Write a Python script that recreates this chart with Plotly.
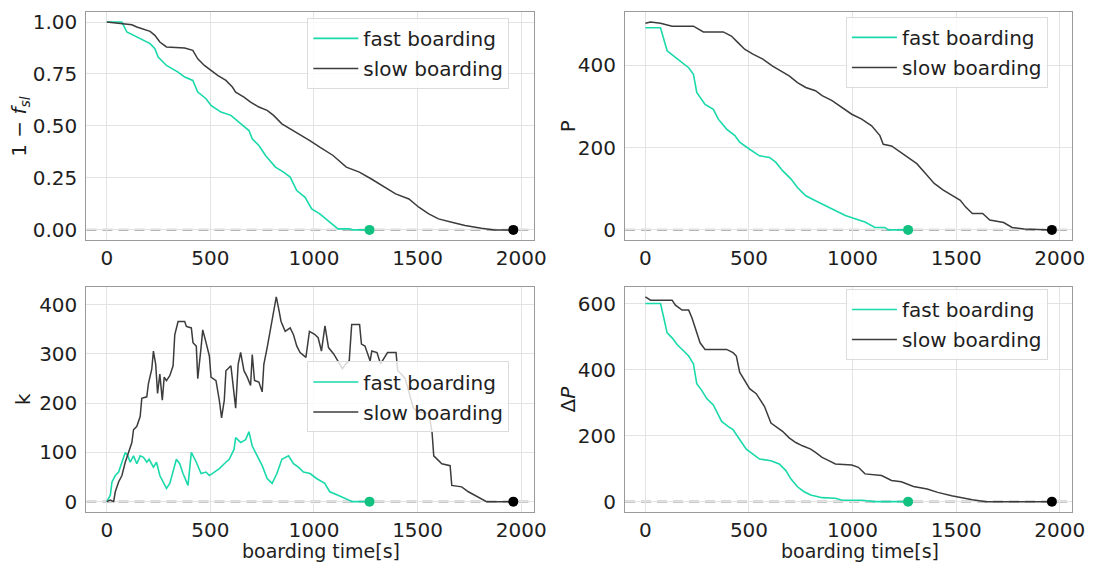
import plotly.graph_objects as go

# ---------------- data ----------------
# panel 1: 1 - f_sl
fsl_fast_t = [0, 73, 97, 129, 177, 209, 232, 248, 288, 344, 376, 415, 439, 479, 503, 551, 599, 646, 686, 702, 734, 766, 814, 853, 885, 917, 957, 989, 1028, 1076, 1116, 1172, 1188, 1268]
fsl_fast_v = [1.0, 1.0, 0.952, 0.936, 0.912, 0.896, 0.872, 0.831, 0.791, 0.759, 0.735, 0.719, 0.663, 0.631, 0.599, 0.567, 0.551, 0.510, 0.478, 0.438, 0.406, 0.358, 0.302, 0.278, 0.254, 0.189, 0.157, 0.101, 0.077, 0.037, 0.005, 0.005, 0.0, 0.0]
fsl_slow_t = [0, 73, 121, 145, 177, 209, 232, 256, 288, 376, 415, 439, 471, 503, 535, 575, 606, 622, 662, 694, 734, 774, 805, 845, 885, 917, 980, 1028, 1092, 1156, 1219, 1275, 1331, 1394, 1458, 1506, 1554, 1601, 1665, 1729, 1808, 1872, 1962]
fsl_slow_v = [1.0, 0.992, 0.987, 0.976, 0.965, 0.955, 0.936, 0.904, 0.880, 0.875, 0.864, 0.823, 0.791, 0.767, 0.743, 0.719, 0.687, 0.663, 0.639, 0.615, 0.591, 0.575, 0.551, 0.510, 0.486, 0.470, 0.430, 0.398, 0.358, 0.302, 0.278, 0.246, 0.213, 0.173, 0.149, 0.109, 0.077, 0.053, 0.037, 0.021, 0.008, 0.0, 0.0]

# panel 2: P
p_fast_t = [0, 73, 89, 105, 145, 177, 209, 232, 248, 288, 328, 352, 392, 432, 455, 503, 551, 599, 630, 662, 702, 734, 774, 821, 869, 917, 965, 1012, 1060, 1108, 1156, 1172, 1268]
p_fast_v = [491, 491, 463, 435, 419, 406, 394, 378, 334, 305, 293, 269, 245, 229, 213, 196, 180, 176, 164, 144, 124, 103, 83, 71, 59, 47, 35, 27, 19, 6, 6, 0, 0]
p_slow_t = [0, 25, 73, 129, 232, 256, 280, 376, 415, 447, 479, 519, 567, 614, 654, 694, 734, 774, 821, 853, 901, 949, 996, 1044, 1092, 1132, 1148, 1188, 1227, 1268, 1310, 1352, 1394, 1436, 1478, 1520, 1545, 1578, 1628, 1662, 1729, 1770, 1829, 1962]
p_slow_v = [502, 505, 502, 495, 495, 487, 481, 481, 471, 455, 439, 427, 415, 398, 386, 374, 358, 346, 338, 326, 314, 297, 281, 269, 253, 229, 208, 204, 190, 174, 161, 137, 113, 97, 85, 72, 56, 40, 40, 24, 18, 6, 2, 0]

# panel 3: k
k_fast_t = [0, 17, 25, 41, 57, 73, 89, 102, 113, 129, 145, 161, 177, 193, 204, 225, 240, 256, 272, 288, 304, 320, 336, 352, 368, 392, 408, 432, 455, 479, 495, 519, 543, 567, 591, 614, 622, 646, 670, 686, 702, 726, 750, 774, 798, 821, 845, 877, 901, 925, 949, 981, 1012, 1052, 1076, 1116, 1172, 1185, 1268]
k_fast_v = [0, 13, 40, 53, 60, 80, 100, 93, 80, 93, 77, 93, 90, 80, 86, 70, 80, 53, 40, 27, 37, 60, 86, 77, 57, 33, 100, 80, 57, 60, 53, 60, 67, 77, 86, 106, 130, 120, 126, 142, 113, 93, 73, 47, 37, 57, 86, 93, 77, 70, 60, 57, 47, 37, 20, 13, 3, 0, 0]
k_slow_t = [0, 17, 33, 41, 57, 73, 89, 105, 121, 129, 145, 161, 169, 193, 201, 217, 225, 236, 245, 256, 268, 277, 288, 304, 320, 328, 344, 376, 384, 408, 416, 432, 439, 455, 463, 479, 495, 503, 527, 543, 554, 567, 575, 599, 614, 622, 634, 646, 662, 678, 694, 702, 713, 734, 750, 758, 774, 790, 802, 818, 829, 841, 861, 885, 901, 917, 933, 961, 978, 1003, 1020, 1036, 1053, 1070, 1095, 1120, 1137, 1154, 1170, 1182, 1220, 1229, 1246, 1271, 1279, 1304, 1321, 1355, 1396, 1404, 1420, 1440, 1460, 1480, 1500, 1555, 1570, 1578, 1617, 1657, 1665, 1713, 1745, 1777, 1833, 1962]
k_slow_v = [0, 3, 0, 20, 40, 53, 80, 100, 120, 146, 153, 173, 210, 213, 240, 269, 306, 279, 220, 259, 206, 253, 246, 256, 276, 339, 366, 366, 356, 353, 323, 316, 250, 313, 349, 323, 296, 253, 246, 206, 170, 206, 266, 276, 213, 190, 279, 303, 266, 253, 236, 299, 246, 243, 223, 279, 313, 353, 379, 416, 393, 366, 346, 353, 339, 316, 303, 293, 346, 340, 333, 306, 357, 313, 300, 283, 270, 280, 286, 360, 360, 320, 316, 286, 306, 303, 280, 303, 303, 266, 260, 250, 220, 190, 183, 179, 140, 93, 77, 73, 33, 30, 20, 13, 0, 0]

# panel 4: Delta P
dp_fast_t = [0, 73, 89, 105, 129, 153, 185, 209, 232, 248, 272, 296, 328, 344, 368, 399, 423, 455, 487, 519, 551, 606, 646, 678, 702, 734, 766, 798, 853, 917, 949, 1044, 1108, 1268]
dp_fast_v = [600, 600, 556, 511, 496, 476, 456, 441, 417, 357, 337, 312, 293, 273, 243, 228, 218, 188, 159, 144, 129, 124, 114, 94, 69, 45, 30, 20, 12, 10, 4, 4, 0, 0]
dp_slow_t = [0, 25, 129, 145, 177, 209, 225, 248, 264, 288, 392, 423, 439, 455, 479, 503, 535, 551, 575, 606, 630, 662, 694, 726, 758, 798, 821, 853, 885, 917, 996, 1028, 1060, 1140, 1188, 1235, 1294, 1360, 1411, 1478, 1578, 1645, 1962]
dp_slow_v = [620, 610, 610, 595, 580, 580, 556, 511, 481, 461, 461, 451, 441, 392, 367, 342, 327, 312, 288, 238, 228, 213, 193, 179, 169, 159, 149, 134, 124, 114, 111, 104, 84, 79, 64, 60, 46, 38, 28, 18, 6, 0, 0]

series_names = ["fast boarding", "slow boarding"]
y_titles = ["1 − <i>f</i><sub><i>sl</i></sub>", "P", "k", "Δ<i>P</i>"]
x_title = "boarding time[s]"
x_ticks = [0, 500, 1000, 1500, 2000]
y_ticks = [[0, 0.25, 0.5, 0.75, 1.0], [0, 200, 400], [0, 100, 200, 300, 400], [0, 200, 400, 600]]

panels = [
    (fsl_fast_t, fsl_fast_v, fsl_slow_t, fsl_slow_v),
    (p_fast_t, p_fast_v, p_slow_t, p_slow_v),
    (k_fast_t, k_fast_v, k_slow_t, k_slow_v),
    (dp_fast_t, dp_fast_v, dp_slow_t, dp_slow_v),
]

# ---------------- styling ----------------
W, H = 1104, 564
FONT = "DejaVu Sans"
FS = 20
TXT = "#1e1e1e"
FAST_LINE = "#1ad9aa"
FAST_DOT = "#12c080"
SLOW_LINE = "#3c3c3c"
SLOW_DOT = "#000000"

x_dom = [[87.5 / W, 540 / W], [632.5 / W, 1085 / W]]
y_dom = [[1 - 240 / H, 1 - 9.7 / H], [1 - 513.5 / H, 1 - 286.7 / H]]
legend_pos = [(311 / W, 1 - 16 / H), (856 / W, 1 - 15 / H), (311 / W, 1 - 362 / H), (856 / W, 1 - 289 / H)]
ytitle_x = [20 / W, 575 / W, 24 / W, 575 / W]
xtitle_x = [325 / W, 870 / W]
xtitle_y = 1 - 553 / H

fig = go.Figure()
layout = dict(width=W, height=H, margin=dict(l=0, r=0, t=0, b=0),
              plot_bgcolor="white", paper_bgcolor="white",
              font=dict(family=FONT, size=FS, color=TXT), annotations=[], shapes=[])

for i, (ft, fv, st, sv) in enumerate(panels):
    row, col = divmod(i, 2)
    xa = "x" if i == 0 else f"x{i+1}"
    ya = "y" if i == 0 else f"y{i+1}"
    lg = "legend" if i == 0 else f"legend{i+1}"
    fig.add_trace(go.Scatter(x=ft, y=fv, mode="lines", name=series_names[0], xaxis=xa, yaxis=ya,
                             line=dict(color=FAST_LINE, width=1.6), legend=lg, legendgroup=f"f{i}"))
    fig.add_trace(go.Scatter(x=st, y=sv, mode="lines", name=series_names[1], xaxis=xa, yaxis=ya,
                             line=dict(color=SLOW_LINE, width=1.5), legend=lg, legendgroup=f"s{i}"))
    fig.add_trace(go.Scatter(x=[ft[-1]], y=[fv[-1]], mode="markers", xaxis=xa, yaxis=ya, showlegend=False,
                             marker=dict(color=FAST_DOT, size=10)))
    fig.add_trace(go.Scatter(x=[st[-1]], y=[sv[-1]], mode="markers", xaxis=xa, yaxis=ya, showlegend=False,
                             marker=dict(color=SLOW_DOT, size=10)))

    ymax = max(max(fv), max(sv))
    xmax = max(ft[-1], st[-1])
    axis_common = dict(showline=True, mirror=True, linecolor="#9a9a9a", linewidth=1.3,
                       showgrid=True, gridcolor="#e3e3e3", gridwidth=1.2, zeroline=False,
                       ticks="", tickfont=dict(family=FONT, size=FS, color=TXT))
    xkey = "xaxis" if i == 0 else f"xaxis{i+1}"
    ykey = "yaxis" if i == 0 else f"yaxis{i+1}"
    layout[xkey] = dict(axis_common, domain=x_dom[col], anchor=ya, range=[-0.05 * xmax, 1.05 * xmax],
                        tickvals=x_ticks)
    layout[ykey] = dict(axis_common, domain=y_dom[row], anchor=xa, range=[-0.05 * ymax, 1.05 * ymax],
                        tickvals=y_ticks[i], tickformat=".2f" if i == 0 else "d",
                        ticklabelstandoff=4)
    layout[lg] = dict(x=legend_pos[i][0], y=legend_pos[i][1], xanchor="left", yanchor="top",
                      bgcolor="rgba(255,255,255,0.8)", bordercolor="#dcdcdc", borderwidth=1,
                      font=dict(family=FONT, size=FS, color=TXT), tracegroupgap=1,
                      traceorder="grouped", itemwidth=45)
    layout["shapes"].append(dict(type="line", xref=f"{xa} domain", yref=ya, x0=0, x1=1, y0=0, y1=0,
                                 line=dict(color="#b5b5b5", width=2.2, dash="10px,6px"), layer="below"))
    layout["annotations"].append(dict(text=y_titles[i], xref="paper", yref="paper", x=ytitle_x[i],
                                      y=sum(y_dom[row]) / 2, textangle=-90, showarrow=False,
                                      xanchor="center", yanchor="middle",
                                      font=dict(family=FONT, size=FS, color=TXT)))
    if row == 1:
        layout["annotations"].append(dict(text=x_title, xref="paper", yref="paper", x=xtitle_x[col],
                                          y=xtitle_y, showarrow=False, xanchor="center", yanchor="middle",
                                          borderpad=0, font=dict(family=FONT, size=19, color=TXT)))

fig.update_layout(**layout)
fig.write_html("out.html", config={"displayModeBar": False},
               post_script="document.body.style.margin='0';document.body.style.padding='0';"
                           "document.body.style.overflow='hidden';")
